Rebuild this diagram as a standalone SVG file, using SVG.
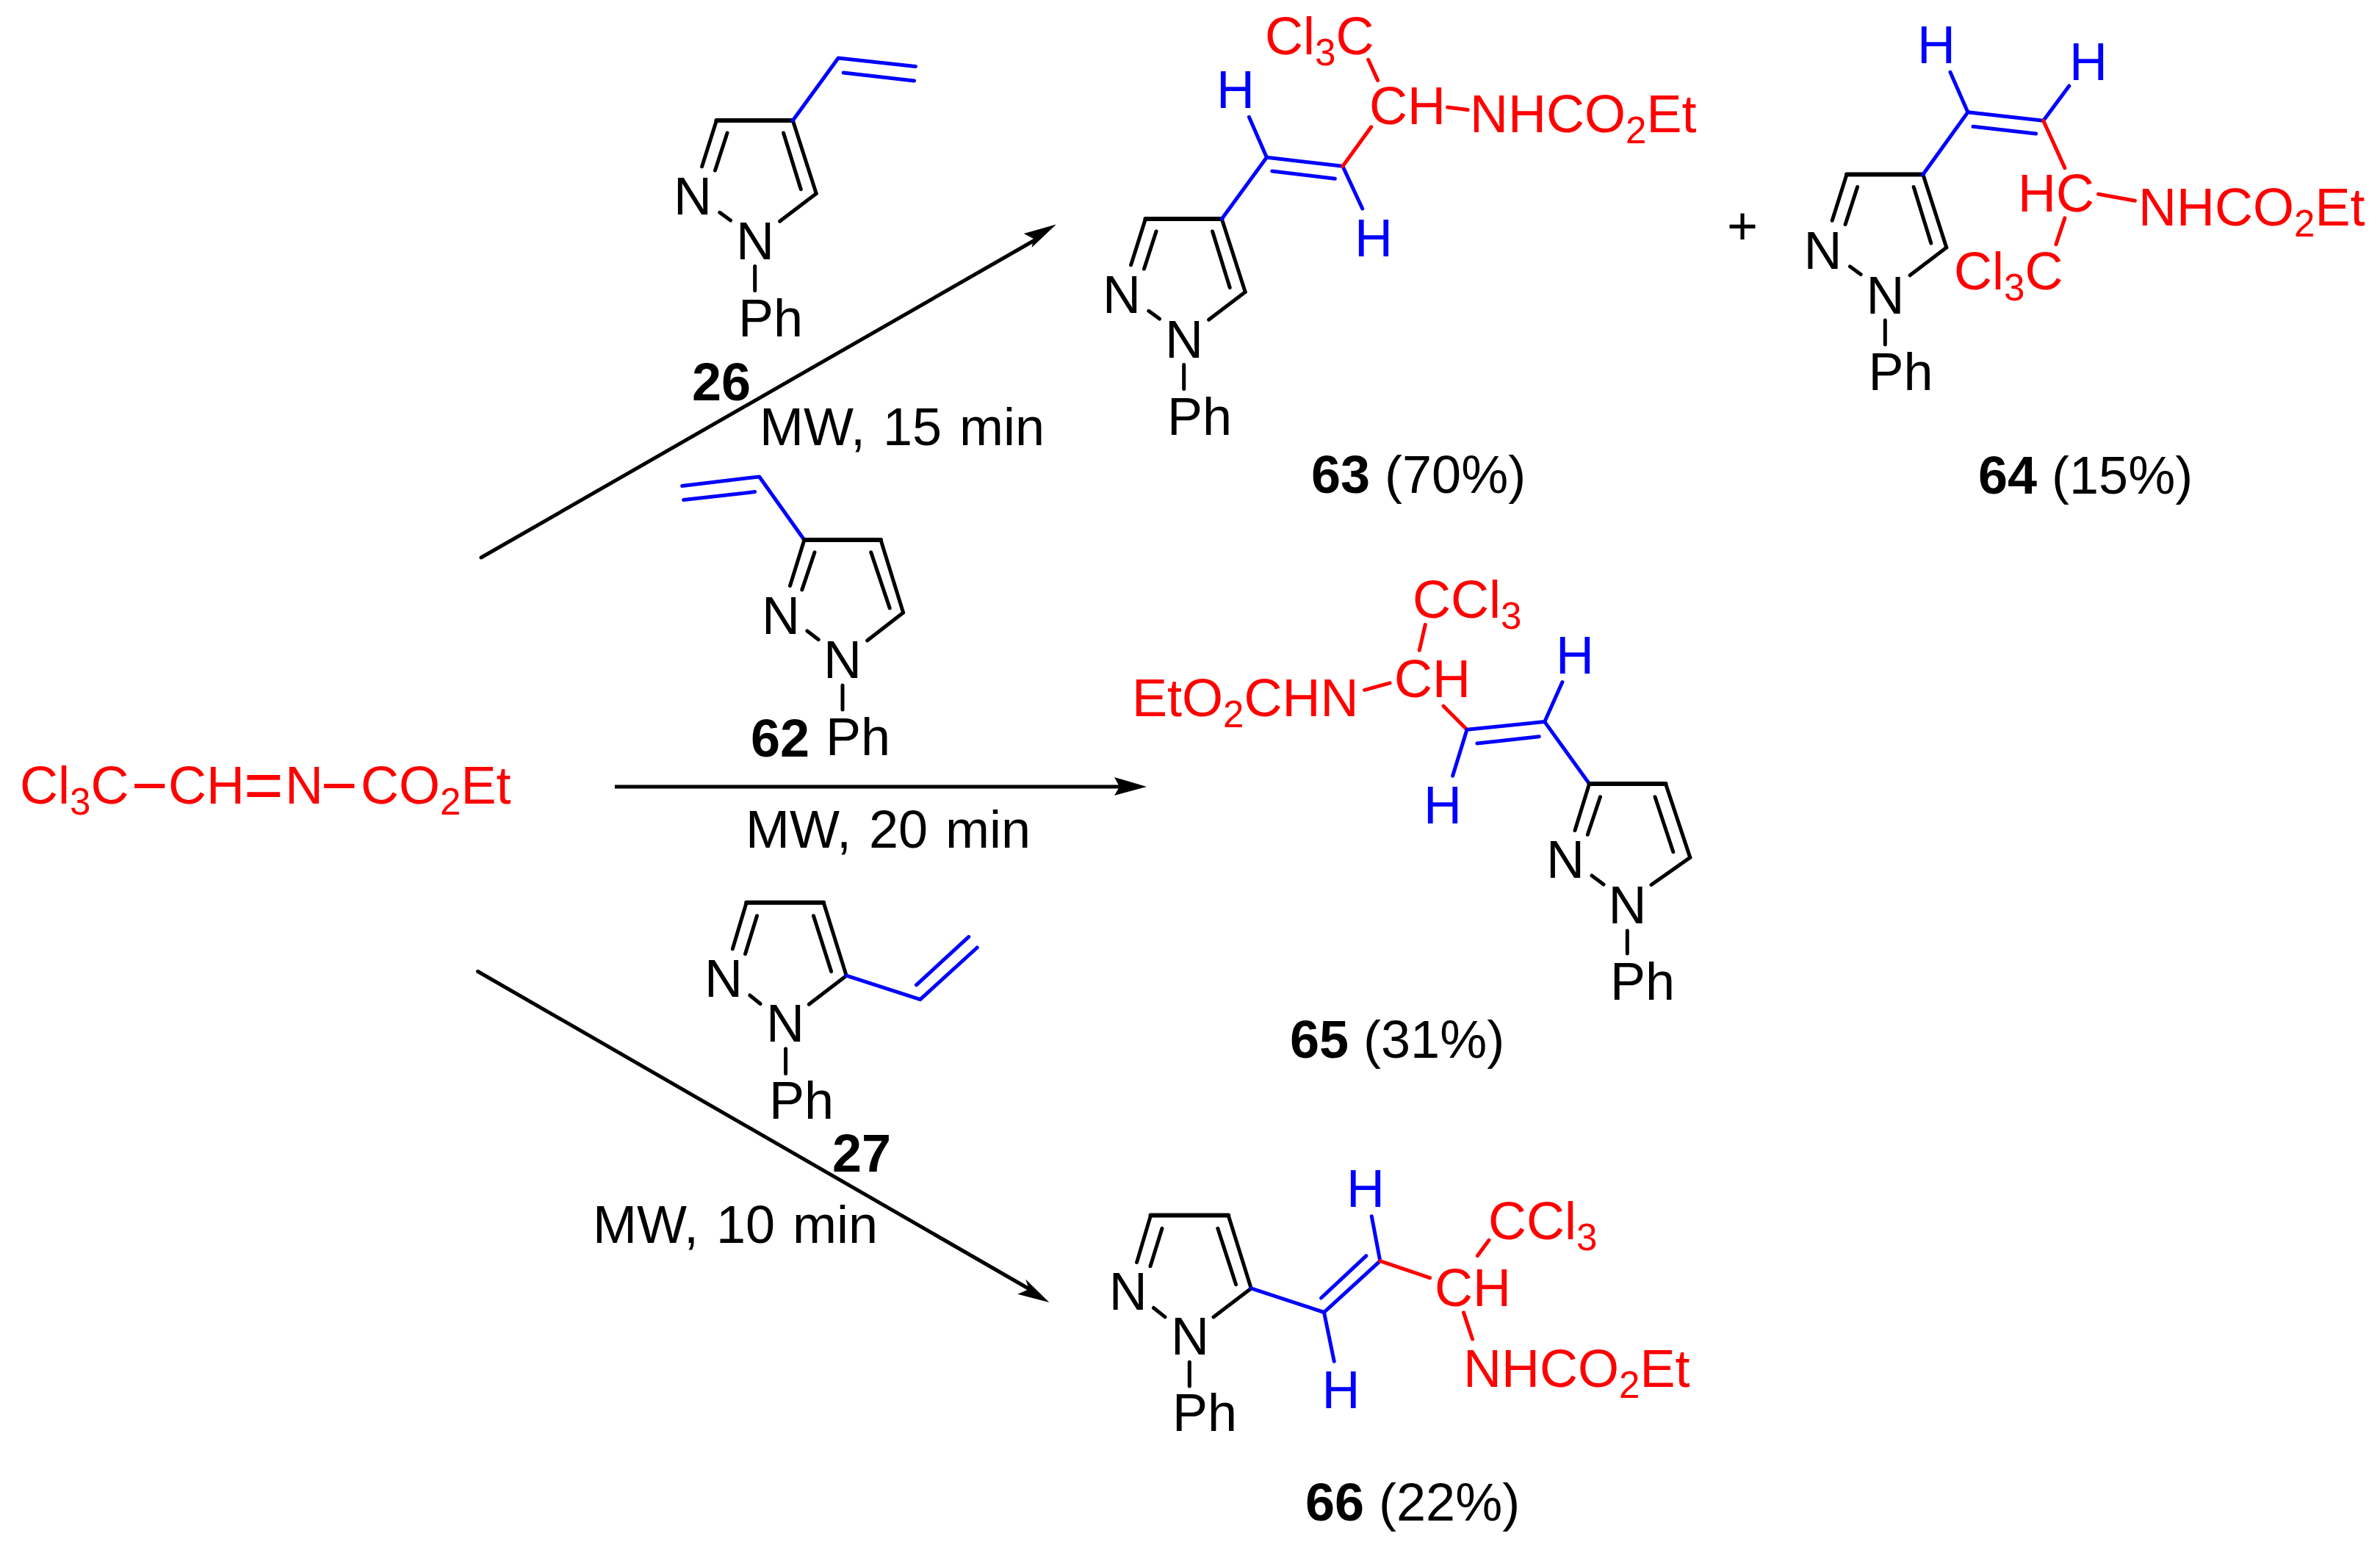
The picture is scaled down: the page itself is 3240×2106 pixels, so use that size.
<svg xmlns="http://www.w3.org/2000/svg" width="3240" height="2106" viewBox="0 0 3240 2106">
<style>
text{font-family:"Liberation Sans",Arial,sans-serif;font-size:72px}
.k{fill:#000}.r{fill:#f00}.b{fill:#00f}
.bd{font-weight:bold}
.s{font-size:51px}
.mw{word-spacing:4px}
.dash{font-size:85px}
.eq{font-size:92px}
line,polyline{stroke-width:5;stroke-linecap:round;stroke-linejoin:round;fill:none}
.lk{stroke:#000}.lr{stroke:#f00}.lb{stroke:#00f}
.top{stroke-width:6}
</style>
<rect width="3240" height="2106" fill="#fff"/>
<g id="connectors">
<g id="arrow-26"><line class="lk" x1="655" y1="759" x2="1412" y2="325"/><polygon points="1437.8,305.4 1393.8,317.9 1407,325 1404.6,337" fill="#000"/></g>
<g id="arrow-62"><line class="lk" x1="837" y1="1071" x2="1530" y2="1071" style="stroke-linecap:butt"/><polygon points="1561,1071 1517,1058 1524,1071 1517,1083" fill="#000"/></g>
<g id="arrow-27"><line class="lk" x1="650.5" y1="1322.5" x2="1405" y2="1757"/><polygon points="1428.4,1772.9 1396.2,1741.5 1400.8,1755 1385.3,1761.8" fill="#000"/></g>
</g>
<g id="imine">
<text class="r"><tspan x="27" y="1094">Cl</tspan><tspan class="s" dy="15">3</tspan><tspan dy="-15">C</tspan><tspan class="dash" x="179" y="1098">−</tspan><tspan x="229" y="1094">CH</tspan><tspan class="eq" x="332" y="1101">=</tspan><tspan x="388" y="1094">N</tspan><tspan class="dash" x="437" y="1098">−</tspan><tspan x="491" y="1094">CO</tspan><tspan class="s" dy="15">2</tspan><tspan dy="-15">Et</tspan></text>
</g>
<g id="reagent-26">
<line class="lk top" x1="975.4" y1="164" x2="1079.3" y2="164"/>
<line class="lk" x1="975.4" y1="164" x2="955.6" y2="226.8"/>
<line class="lk" x1="990" y1="181" x2="973.5" y2="232"/>
<line class="lk" x1="1079.3" y1="164" x2="1111.2" y2="263.4"/>
<line class="lk" x1="1066.6" y1="181" x2="1090.2" y2="257.6"/>
<line class="lk" x1="1111.2" y1="263.4" x2="1061.5" y2="301.3"/>
<line class="lk" x1="979.8" y1="289.3" x2="994.5" y2="300"/>
<line class="lk" x1="1027.7" y1="362.5" x2="1027.7" y2="395.5"/>
<polyline class="lb" points="1079.3,164 1141.2,79 1246.4,90.6"/>
<line class="lb" x1="1148.2" y1="99" x2="1244.5" y2="110"/>
<text class="k" x="917" y="292">N</text>
<text class="k" x="1002" y="353">N</text>
<text class="k" x="1005" y="457.5">Ph</text>
<text class="k bd" x="942" y="545">26</text>
<text class="k mw" x="1034" y="606">MW, 15 min</text>
</g>
<g id="product-63">
<line class="lk top" x1="1559.4" y1="298" x2="1663.3" y2="298"/>
<line class="lk" x1="1559.4" y1="298" x2="1539.6" y2="360.8"/>
<line class="lk" x1="1574" y1="315" x2="1557.5" y2="366"/>
<line class="lk" x1="1663.3" y1="298" x2="1695.2" y2="397.4"/>
<line class="lk" x1="1650.6" y1="315" x2="1674.2" y2="391.6"/>
<line class="lk" x1="1695.2" y1="397.4" x2="1645.5" y2="435.3"/>
<line class="lk" x1="1563.8" y1="423.3" x2="1578.5" y2="434"/>
<line class="lk" x1="1611.7" y1="496.5" x2="1611.7" y2="529.5"/>
<polyline class="lb" points="1663.3,298 1724.4,214.3 1827.9,226.3 1854.7,284"/>
<line class="lb" x1="1731.8" y1="233" x2="1817.4" y2="243.3"/>
<line class="lb" x1="1700.5" y1="159.4" x2="1724.4" y2="214.3"/>
<line class="lr" x1="1866.7" y1="172.8" x2="1827.9" y2="226.3"/>
<line class="lr" x1="1862.7" y1="81.3" x2="1875.6" y2="109.4"/>
<line class="lr" x1="1970.6" y1="146" x2="1998" y2="149.6"/>
<text class="k" x="1501" y="426">N</text>
<text class="k" x="1586" y="487">N</text>
<text class="k" x="1589" y="591.5">Ph</text>
<text class="b" x="1656" y="147">H</text>
<text class="b" x="1844" y="349">H</text>
<text class="r" x="1722" y="73.7">Cl<tspan class="s" dy="15">3</tspan><tspan dy="-15">C</tspan></text>
<text class="r" x="1864" y="168.8">CH</text>
<text class="r" x="2001" y="180">NHCO<tspan class="s" dy="15">2</tspan><tspan dy="-15">Et</tspan></text>
<text class="k" x="1785" y="671"><tspan class="bd">63</tspan> (70%)</text>
</g>
<g id="product-64">
<line class="lk top" x1="2514" y1="237.5" x2="2617.9" y2="237.5"/>
<line class="lk" x1="2514" y1="237.5" x2="2494.2" y2="300.3"/>
<line class="lk" x1="2528.6" y1="254.5" x2="2512.1" y2="305.5"/>
<line class="lk" x1="2617.9" y1="237.5" x2="2649.8" y2="336.9"/>
<line class="lk" x1="2605.2" y1="254.5" x2="2628.8" y2="331.1"/>
<line class="lk" x1="2649.8" y1="336.9" x2="2600.1" y2="374.8"/>
<line class="lk" x1="2518.4" y1="362.8" x2="2533.1" y2="373.5"/>
<line class="lk" x1="2566.3" y1="436" x2="2566.3" y2="469"/>
<polyline class="lb" points="2617.9,237.5 2678.9,152.7 2781.7,164.3 2816.8,117"/>
<line class="lb" x1="2686" y1="172.3" x2="2771.7" y2="182"/>
<line class="lb" x1="2655" y1="98.2" x2="2678.9" y2="152.7"/>
<line class="lr" x1="2781.7" y1="164.3" x2="2810.9" y2="228.6"/>
<line class="lr" x1="2856.6" y1="264.3" x2="2906.4" y2="273.2"/>
<line class="lr" x1="2810.9" y1="296.9" x2="2799" y2="332.6"/>
<text class="k" x="2351" y="332">+</text>
<text class="k" x="2455.6" y="365.5">N</text>
<text class="k" x="2540.6" y="426.5">N</text>
<text class="k" x="2543.6" y="531">Ph</text>
<text class="b" x="2610" y="86">H</text>
<text class="b" x="2817" y="108.5">H</text>
<text class="r" x="2747" y="288">HC</text>
<text class="r" x="2911" y="307">NHCO<tspan class="s" dy="15">2</tspan><tspan dy="-15">Et</tspan></text>
<text class="r" x="2660" y="394">Cl<tspan class="s" dy="15">3</tspan><tspan dy="-15">C</tspan></text>
<text class="k" x="2693" y="672"><tspan class="bd">64</tspan> (15%)</text>
</g>
<g id="reagent-62">
<polyline class="lb" points="928.6,661.4 1033.7,649 1094.9,735"/>
<line class="lb" x1="930.6" y1="680.4" x2="1027.6" y2="669.6"/>
<line class="lk top" x1="1094.9" y1="735" x2="1199" y2="735"/>
<line class="lk" x1="1094.9" y1="735" x2="1075.5" y2="797.5"/>
<line class="lk" x1="1109" y1="751.8" x2="1091.8" y2="802.9"/>
<line class="lk" x1="1199" y1="735" x2="1229.6" y2="834"/>
<line class="lk" x1="1185.7" y1="751.8" x2="1211.2" y2="827.9"/>
<line class="lk" x1="1229.6" y1="834" x2="1180.6" y2="872"/>
<line class="lk" x1="1098.9" y1="859" x2="1114.3" y2="870.7"/>
<line class="lk" x1="1147" y1="932.9" x2="1147" y2="966"/>
<text class="k" x="1037" y="862.5">N</text>
<text class="k" x="1121" y="923">N</text>
<text class="k" x="1124" y="1027.5">Ph</text>
<text class="k bd" x="1022" y="1030">62</text>
<text class="k mw" x="1015" y="1153.6">MW, 20 min</text>
</g>
<g id="product-65">
<line class="lr" x1="1940.3" y1="850.4" x2="1932.3" y2="885.3"/>
<line class="lr" x1="1857.6" y1="939.3" x2="1892" y2="929.9"/>
<line class="lr" x1="1965" y1="961.2" x2="1997" y2="993.3"/>
<polyline class="lb" points="1977.6,1056.3 1997,993.3 2102.8,982.6 2163.6,1067"/>
<line class="lb" x1="2010.9" y1="1012" x2="2095.3" y2="1002.7"/>
<line class="lb" x1="2126.9" y1="928.6" x2="2102.8" y2="982.6"/>
<line class="lk top" x1="2163.6" y1="1067" x2="2267.5" y2="1067"/>
<line class="lk" x1="2163.6" y1="1067" x2="2144" y2="1130.4"/>
<line class="lk" x1="2178.5" y1="1084.8" x2="2161.3" y2="1136.2"/>
<line class="lk" x1="2267.5" y1="1067" x2="2300.8" y2="1167.4"/>
<line class="lk" x1="2253" y1="1084.8" x2="2277.8" y2="1159.8"/>
<line class="lk" x1="2300.8" y1="1167.4" x2="2248" y2="1204.5"/>
<line class="lk" x1="2167" y1="1192" x2="2183" y2="1204"/>
<line class="lk" x1="2215.3" y1="1267" x2="2215.3" y2="1298"/>
<text class="r" x="1923" y="840.6">CCl<tspan class="s" dy="15">3</tspan></text>
<text class="r" x="1898" y="948.7">CH</text>
<text class="r" x="1541" y="975.4">EtO<tspan class="s" dy="15">2</tspan><tspan dy="-15">CHN</tspan></text>
<text class="b" x="2118" y="916.5">H</text>
<text class="b" x="1938" y="1120.5">H</text>
<text class="k" x="2105" y="1195">N</text>
<text class="k" x="2189.5" y="1256.7">N</text>
<text class="k" x="2192" y="1360.7">Ph</text>
<text class="k" x="1756" y="1439.7"><tspan class="bd">65</tspan> (31%)</text>
</g>
<g id="reagent-27">
<line class="lk top" x1="1016.2" y1="1228.7" x2="1121.2" y2="1228.7"/>
<line class="lk" x1="1016.2" y1="1228.7" x2="997.3" y2="1291.8"/>
<line class="lk" x1="1030.5" y1="1246.7" x2="1014.5" y2="1298.7"/>
<line class="lk" x1="1121.2" y1="1228.7" x2="1152.2" y2="1328.2"/>
<line class="lk" x1="1107.5" y1="1246.7" x2="1131.6" y2="1322.5"/>
<line class="lk" x1="1152.2" y1="1328.2" x2="1101.2" y2="1367.2"/>
<line class="lk" x1="1020.8" y1="1355" x2="1035.1" y2="1366.5"/>
<line class="lk" x1="1069.6" y1="1427.7" x2="1069.6" y2="1461.4"/>
<polyline class="lb" points="1152.2,1328.2 1252.7,1360.7 1330.2,1290"/>
<line class="lb" x1="1247.5" y1="1340.8" x2="1318.7" y2="1275.4"/>
<text class="k" x="959" y="1357">N</text>
<text class="k" x="1043" y="1418">N</text>
<text class="k" x="1047" y="1523.4">Ph</text>
<text class="k bd" x="1133" y="1595.3">27</text>
<text class="k mw" x="807" y="1691.8">MW, 10 min</text>
</g>
<g id="product-66">
<line class="lk top" x1="1566.5" y1="1654.6" x2="1672.2" y2="1654.6"/>
<line class="lk" x1="1566.5" y1="1654.6" x2="1547.6" y2="1718.4"/>
<line class="lk" x1="1582" y1="1672.3" x2="1566" y2="1723.8"/>
<line class="lk" x1="1672.2" y1="1654.6" x2="1703.2" y2="1753.9"/>
<line class="lk" x1="1657.8" y1="1672.3" x2="1682.5" y2="1748.6"/>
<line class="lk" x1="1703.2" y1="1753.9" x2="1652" y2="1792.9"/>
<line class="lk" x1="1570.5" y1="1780.5" x2="1586" y2="1792.9"/>
<line class="lk" x1="1619.3" y1="1854.3" x2="1619.3" y2="1886.9"/>
<polyline class="lb" points="1703.2,1753.9 1802.5,1786.5 1878.8,1716.7 1867.3,1655.7"/>
<line class="lb" x1="1798.5" y1="1767" x2="1859.9" y2="1709.6"/>
<line class="lb" x1="1802.5" y1="1786.5" x2="1816.2" y2="1853.2"/>
<line class="lr" x1="1878.8" y1="1716.7" x2="1946.6" y2="1739.7"/>
<line class="lr" x1="2027" y1="1688.3" x2="2011.4" y2="1709.6"/>
<line class="lr" x1="1992.5" y1="1786.9" x2="2004.5" y2="1823"/>
<text class="k" x="1509.7" y="1783.3">N</text>
<text class="k" x="1594" y="1844.3">N</text>
<text class="k" x="1596" y="1947.9">Ph</text>
<text class="b" x="1833" y="1643.3">H</text>
<text class="b" x="1799.6" y="1917">H</text>
<text class="r" x="1953" y="1778">CH</text>
<text class="r" x="2026" y="1686.5">CCl<tspan class="s" dy="15">3</tspan></text>
<text class="r" x="1992" y="1888">NHCO<tspan class="s" dy="15">2</tspan><tspan dy="-15">Et</tspan></text>
<text class="k" x="1777" y="2069.5"><tspan class="bd">66</tspan> (22%)</text>
</g>
</svg>
